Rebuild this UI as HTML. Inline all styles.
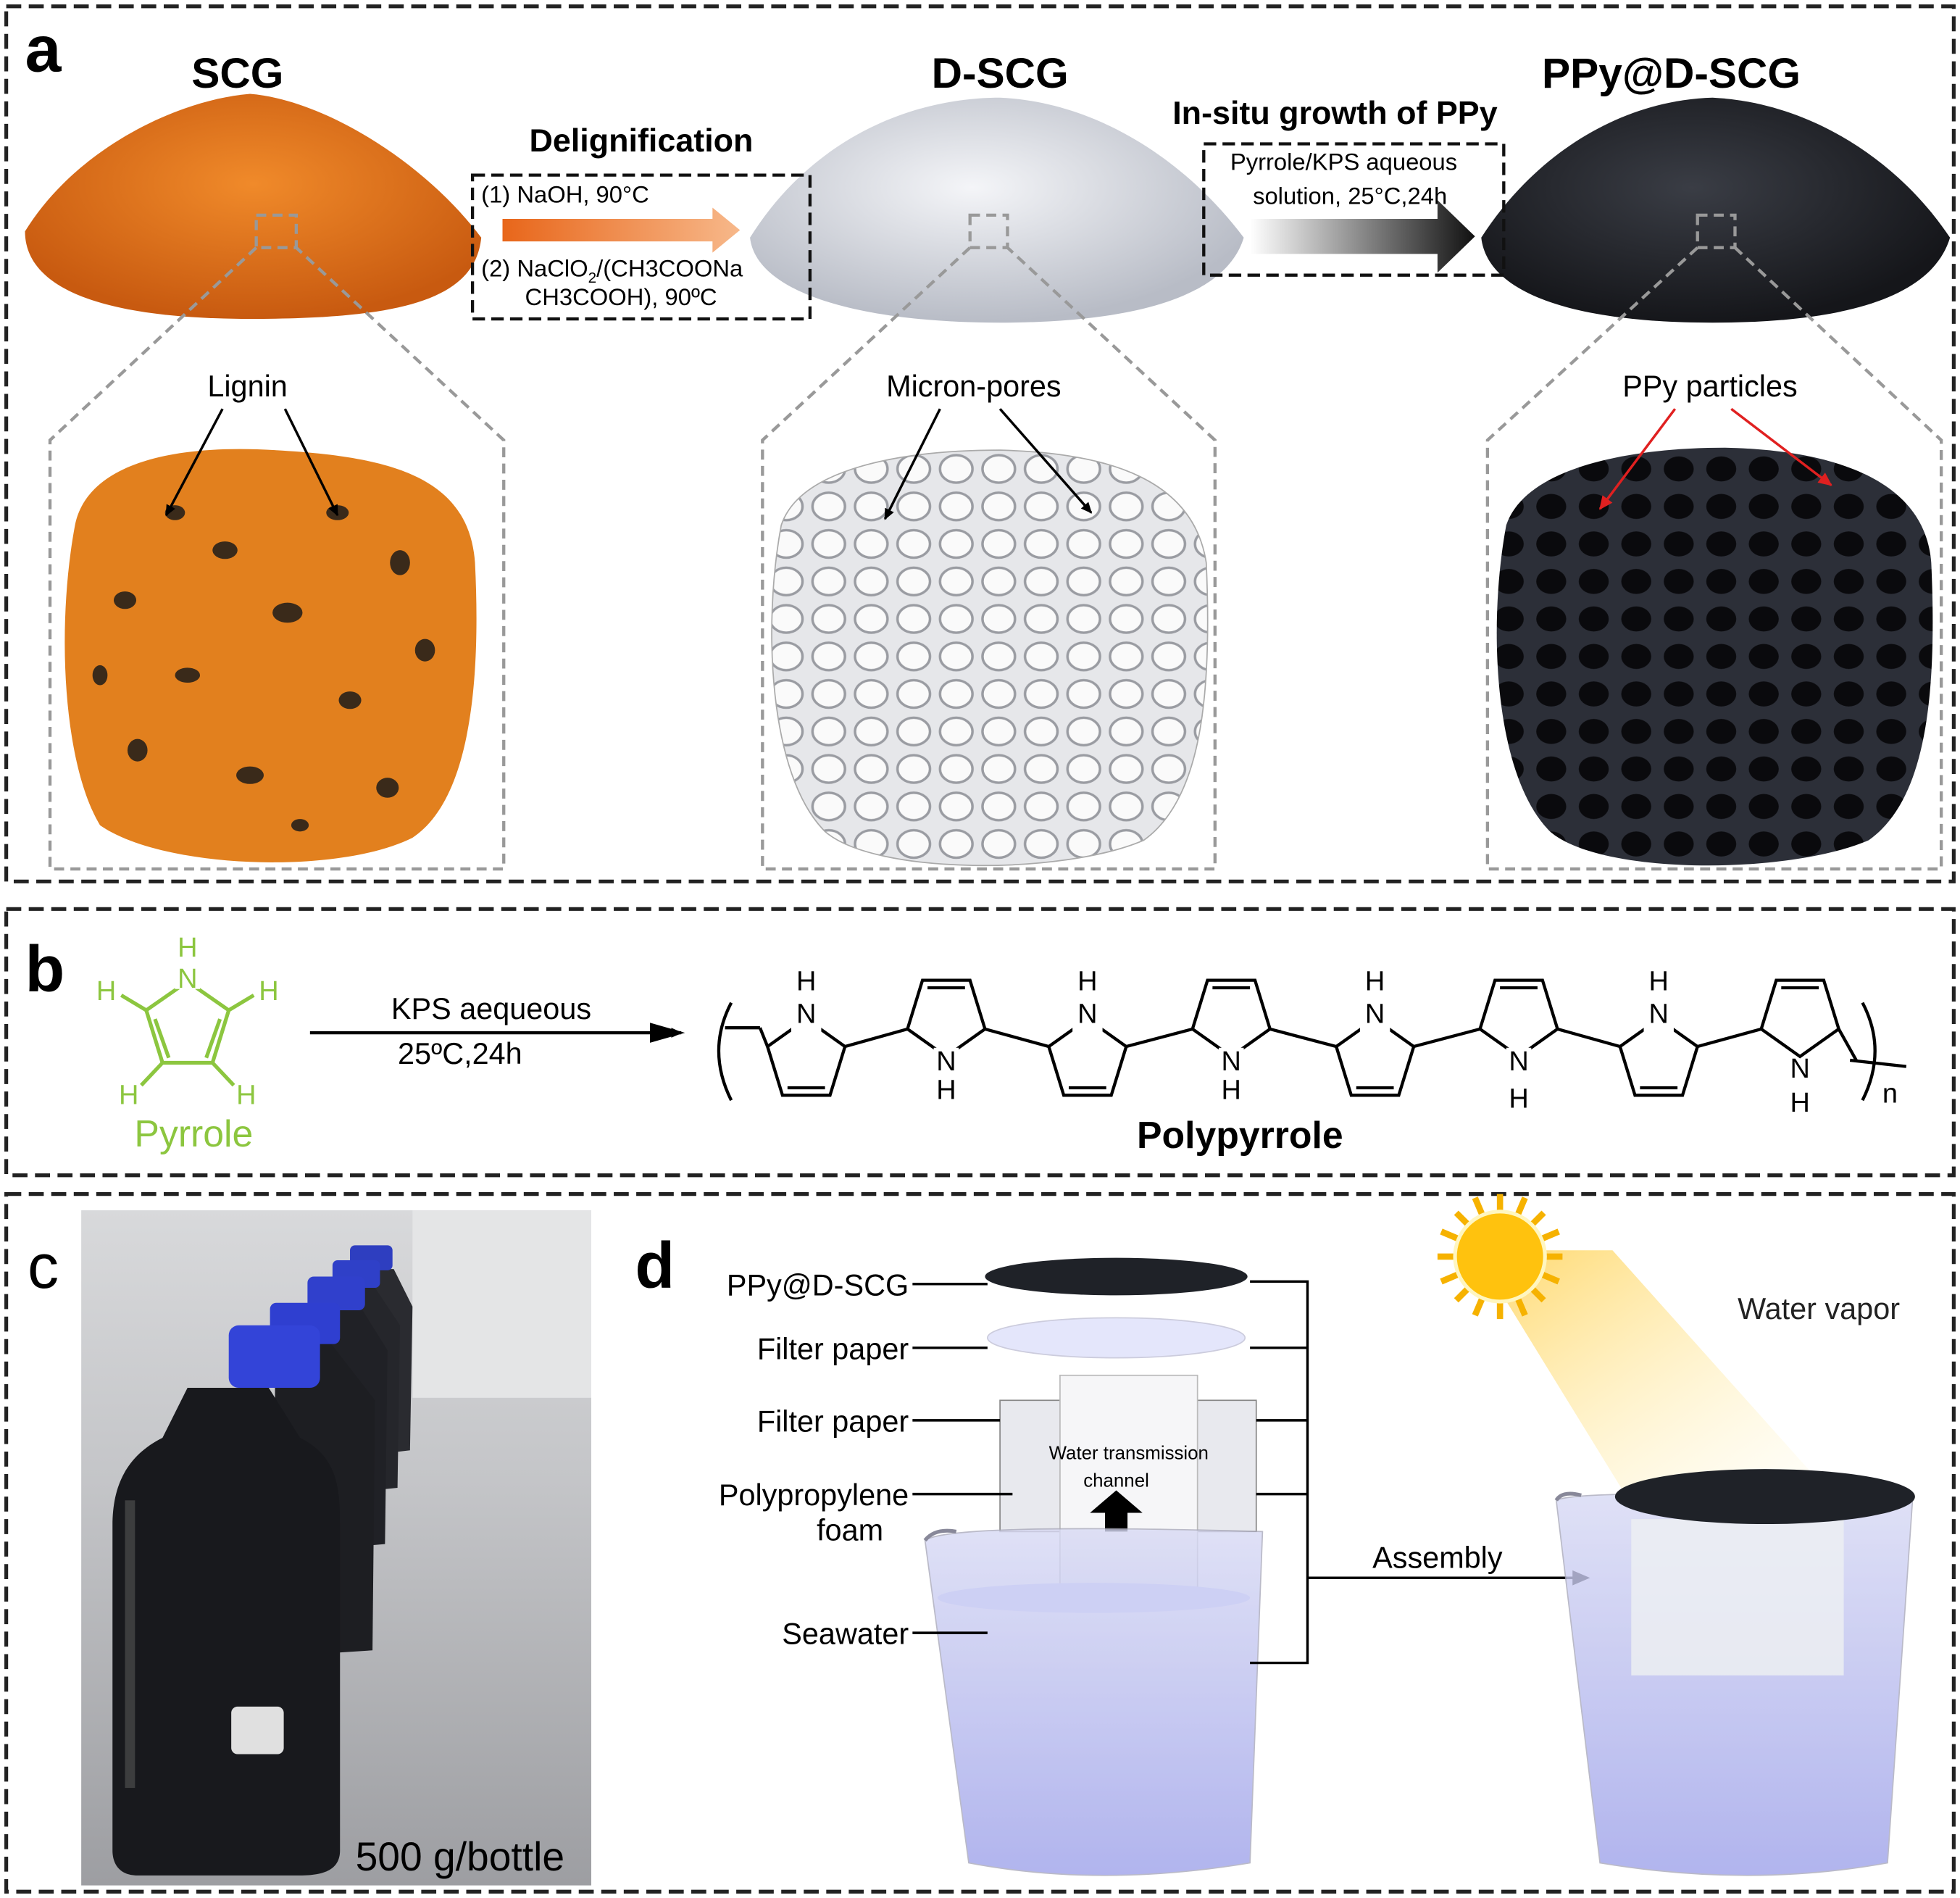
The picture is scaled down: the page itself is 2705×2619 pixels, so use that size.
<!DOCTYPE html>
<html><head><meta charset="utf-8"><style>html,body{margin:0;padding:0;background:#fff}svg{display:block}</style></head>
<body>
<svg width="2705" height="2619" viewBox="0 0 1568 1518" xmlns="http://www.w3.org/2000/svg" font-family="Liberation Sans, Arial, sans-serif">
<defs>
<radialGradient id="org" cx="50%" cy="40%" r="60%"><stop offset="0" stop-color="#f08a2a"/><stop offset="1" stop-color="#c85a10"/></radialGradient>
<radialGradient id="wht" cx="45%" cy="40%" r="60%"><stop offset="0" stop-color="#f4f5f8"/><stop offset="1" stop-color="#b8bcc6"/></radialGradient>
<radialGradient id="blk" cx="45%" cy="40%" r="60%"><stop offset="0" stop-color="#3a3d45"/><stop offset="1" stop-color="#15161a"/></radialGradient>
<linearGradient id="oarr" x1="0" x2="1"><stop offset="0" stop-color="#e8661a"/><stop offset="1" stop-color="#f7b88a"/></linearGradient>
<linearGradient id="barr" x1="0" x2="1"><stop offset="0" stop-color="#ffffff"/><stop offset="1" stop-color="#111"/></linearGradient>
<linearGradient id="photo" x1="0" y1="0" x2="0" y2="1"><stop offset="0" stop-color="#d8d9db"/><stop offset="0.4" stop-color="#c4c5c8"/><stop offset="1" stop-color="#9d9ea2"/></linearGradient>
<linearGradient id="water" x1="0" y1="0" x2="0" y2="1"><stop offset="0" stop-color="#d8daf4"/><stop offset="1" stop-color="#9ea2ea"/></linearGradient>
<linearGradient id="beam" x1="0" y1="0" x2="1" y2="1"><stop offset="0" stop-color="#ffc830" stop-opacity="0.9"/><stop offset="1" stop-color="#fff4c0" stop-opacity="0.1"/></linearGradient>
<marker id="ah" markerWidth="10" markerHeight="10" refX="8" refY="5" orient="auto" markerUnits="userSpaceOnUse"><path d="M0,1 L9,5 L0,9 z" fill="#000"/></marker>
<marker id="ahr" markerWidth="12" markerHeight="12" refX="10" refY="6" orient="auto" markerUnits="userSpaceOnUse"><path d="M0,1 L11,6 L0,11 z" fill="#e02020"/></marker>
<pattern id="pores" width="34" height="30" patternUnits="userSpaceOnUse"><rect width="34" height="30" fill="#e6e7ea"/><ellipse cx="17" cy="15" rx="13" ry="11" fill="#fafafa" stroke="#9a9ca2" stroke-width="2"/></pattern>
<pattern id="dpores" width="34" height="30" patternUnits="userSpaceOnUse"><rect width="34" height="30" fill="#2c2f38"/><ellipse cx="17" cy="15" rx="12" ry="10" fill="#0a0a0d"/></pattern>
</defs>
<rect width="1568" height="1518" fill="#fff"/>
<g fill="none" stroke="#222" stroke-width="3" stroke-dasharray="12,6">
<rect x="5" y="5" width="1558" height="700"/>
<rect x="5" y="727" width="1558" height="213"/>
<rect x="5" y="955" width="1558" height="558"/>
</g>
<text x="20" y="57" font-size="52" font-weight="bold">a</text>
<text x="20" y="793" font-size="52" font-weight="bold">b</text>
<text x="22" y="1030" font-size="50">c</text>
<text x="508" y="1030" font-size="52" font-weight="bold">d</text>

<text x="190" y="70" font-size="34" font-weight="bold" text-anchor="middle">SCG</text>
<text x="800" y="70" font-size="34" font-weight="bold" text-anchor="middle">D-SCG</text>
<text x="1337" y="70" font-size="34" font-weight="bold" text-anchor="middle">PPy@D-SCG</text>
<text x="513" y="121" font-size="26" font-weight="bold" text-anchor="middle">Delignification</text>
<text x="1068" y="99" font-size="26" font-weight="bold" text-anchor="middle">In-situ growth of PPy</text>
<path d="M20,185 C60,120 140,80 200,75 C260,80 340,130 385,190 C380,240 320,255 200,255 C80,255 20,230 20,185 Z" fill="url(#org)"/>
<path d="M600,190 C650,110 730,78 800,78 C880,82 950,130 995,190 C980,240 900,258 800,258 C690,258 605,235 600,190 Z" fill="url(#wht)"/>
<path d="M1185,190 C1230,120 1300,80 1370,78 C1450,82 1520,130 1560,190 C1545,240 1470,258 1370,258 C1260,258 1190,235 1185,190 Z" fill="url(#blk)"/>
<g fill="none" stroke="#999" stroke-width="2.5" stroke-dasharray="8,5">
<rect x="205" y="172" width="32" height="26"/><rect x="776" y="172" width="30" height="26"/><rect x="1358" y="172" width="30" height="26"/>
<path d="M205,198 L40,352 L40,695 L403,695 L403,352 L237,198"/>
<path d="M776,198 L610,352 L610,695 L972,695 L972,352 L806,198"/>
<path d="M1358,198 L1190,352 L1190,695 L1553,695 L1553,352 L1388,198"/>
</g>
<g fill="none" stroke="#111" stroke-width="2.5" stroke-dasharray="10,5">
<rect x="378" y="140" width="270" height="115"/>
<rect x="963" y="115" width="240" height="105"/>
</g>
<text x="385" y="162" font-size="19">(1) NaOH, 90°C</text>
<text x="385" y="221" font-size="19">(2) NaClO<tspan font-size="12" dy="5">2</tspan><tspan dy="-5">/(CH3COONa</tspan></text>
<text x="420" y="244" font-size="19">CH3COOH), 90ºC</text>
<text x="1075" y="136" font-size="19" text-anchor="middle">Pyrrole/KPS aqueous</text>
<text x="1080" y="163" font-size="19" text-anchor="middle">solution, 25°C,24h</text>
<path d="M402,175 L570,175 L570,166 L592,184 L570,202 L570,193 L402,193 Z" fill="url(#oarr)"/>
<path d="M1000,175 L1150,175 L1150,160 L1180,189 L1150,218 L1150,203 L1000,203 Z" fill="url(#barr)"/>
<path d="M60,420 C70,370 140,355 220,360 C310,365 375,380 380,450 C385,550 375,640 330,670 C270,700 130,695 80,660 C50,610 45,500 60,420 Z" fill="#e2801e"/>
<g fill="#3a2a1a">
<ellipse cx="140" cy="410" rx="8" ry="6"/><ellipse cx="180" cy="440" rx="10" ry="7"/><ellipse cx="270" cy="410" rx="9" ry="6"/><ellipse cx="320" cy="450" rx="8" ry="10"/><ellipse cx="100" cy="480" rx="9" ry="7"/><ellipse cx="230" cy="490" rx="12" ry="8"/><ellipse cx="340" cy="520" rx="8" ry="9"/><ellipse cx="150" cy="540" rx="10" ry="6"/><ellipse cx="280" cy="560" rx="9" ry="7"/><ellipse cx="110" cy="600" rx="8" ry="9"/><ellipse cx="200" cy="620" rx="11" ry="7"/><ellipse cx="310" cy="630" rx="9" ry="8"/><ellipse cx="240" cy="660" rx="7" ry="5"/><ellipse cx="80" cy="540" rx="6" ry="8"/>
</g>
<path d="M625,420 C640,375 720,360 800,360 C890,362 955,385 965,450 C970,560 960,640 915,672 C850,700 700,700 660,665 C615,620 610,500 625,420 Z" fill="url(#pores)" stroke="#aaa"/>
<path d="M1205,420 C1220,375 1300,358 1380,358 C1470,360 1540,385 1545,450 C1550,560 1540,640 1495,672 C1430,700 1280,700 1240,665 C1195,620 1190,500 1205,420 Z" fill="url(#dpores)"/>
<text x="198" y="317" font-size="24" text-anchor="middle">Lignin</text>
<text x="779" y="317" font-size="24" text-anchor="middle">Micron-pores</text>
<text x="1368" y="317" font-size="24" text-anchor="middle">PPy particles</text>
<g stroke="#000" stroke-width="2" marker-end="url(#ah)"><line x1="178" y1="327" x2="133" y2="412"/><line x1="228" y1="327" x2="270" y2="412"/><line x1="752" y1="327" x2="708" y2="415"/><line x1="800" y1="327" x2="873" y2="410"/></g>
<g stroke="#e02020" stroke-width="2" marker-end="url(#ahr)"><line x1="1340" y1="327" x2="1280" y2="407"/><line x1="1385" y1="327" x2="1465" y2="388"/></g>

<g stroke="#8cc63f" stroke-width="3" fill="none">
<path d="M150,785 L183,808 L170,850 L130,850 L117,808 Z"/>
<line x1="176" y1="815" x2="165" y2="846"/><line x1="124" y1="815" x2="135" y2="846"/>
<line x1="117" y1="808" x2="97" y2="796"/><line x1="183" y1="808" x2="203" y2="796"/><line x1="130" y1="850" x2="113" y2="868"/><line x1="170" y1="850" x2="187" y2="868"/>
</g>
<g fill="#8cc63f" font-size="22" text-anchor="middle"><text x="150" y="765">H</text><rect x="140" y="773" width="20" height="18" fill="#fff"/><text x="150" y="790">N</text><text x="85" y="800">H</text><text x="215" y="800">H</text><text x="103" y="883">H</text><text x="197" y="883">H</text></g>
<text x="155" y="917" font-size="30" fill="#8cc63f" text-anchor="middle">Pyrrole</text>
<line x1="248" y1="826" x2="545" y2="826" stroke="#000" stroke-width="2.5" marker-end="url(#ah)"/>
<path d="M520,818 L548,826 L520,834 Z"/>
<text x="393" y="815" font-size="24" text-anchor="middle">KPS aequeous</text>
<text x="368" y="851" font-size="24" text-anchor="middle">25ºC,24h</text>
<g stroke="#000" stroke-width="2.5" fill="none">
<path d="M585,802 Q565,840 585,880"/><path d="M1490,802 Q1510,840 1490,880"/>
<line x1="580" y1="822" x2="608" y2="822"/><line x1="1480" y1="848" x2="1525" y2="853"/>
<path d="M645,815 L676,837 L664,876 L626,876 L614,837 Z"/><line x1="630" y1="870" x2="660" y2="870"/>
<path d="M870,815 L901,837 L889,876 L851,876 L839,837 Z"/><line x1="855" y1="870" x2="885" y2="870"/>
<path d="M1100,815 L1131,837 L1119,876 L1081,876 L1069,837 Z"/><line x1="1085" y1="870" x2="1115" y2="870"/>
<path d="M1327,815 L1358,837 L1346,876 L1308,876 L1296,837 Z"/><line x1="1312" y1="870" x2="1342" y2="870"/>
<path d="M757,845 L788,823 L776,784 L738,784 L726,823 Z"/><line x1="742" y1="790" x2="772" y2="790"/>
<path d="M985,845 L1016,823 L1004,784 L966,784 L954,823 Z"/><line x1="970" y1="790" x2="1000" y2="790"/>
<path d="M1215,845 L1246,823 L1234,784 L1196,784 L1184,823 Z"/><line x1="1200" y1="790" x2="1230" y2="790"/>
<path d="M1440,845 L1471,823 L1459,784 L1421,784 L1409,823 Z"/><line x1="1425" y1="790" x2="1455" y2="790"/>
<line x1="676" y1="837" x2="726" y2="823"/><line x1="788" y1="823" x2="839" y2="837"/><line x1="901" y1="837" x2="954" y2="823"/><line x1="1016" y1="823" x2="1069" y2="837"/><line x1="1131" y1="837" x2="1184" y2="823"/><line x1="1246" y1="823" x2="1296" y2="837"/><line x1="1358" y1="837" x2="1409" y2="823"/><line x1="1471" y1="823" x2="1485" y2="848"/><line x1="608" y1="822" x2="614" y2="837"/>
</g>
<g font-size="22" text-anchor="middle" fill="#000">
<rect x="633" y="808" width="24" height="18" fill="#fff"/><text x="645" y="792">H</text><text x="645" y="818">N</text>
<rect x="858" y="808" width="24" height="18" fill="#fff"/><text x="870" y="792">H</text><text x="870" y="818">N</text>
<rect x="1088" y="808" width="24" height="18" fill="#fff"/><text x="1100" y="792">H</text><text x="1100" y="818">N</text>
<rect x="1315" y="808" width="24" height="18" fill="#fff"/><text x="1327" y="792">H</text><text x="1327" y="818">N</text>
<rect x="747" y="838" width="20" height="18" fill="#fff"/><text x="757" y="856">N</text><text x="757" y="879">H</text>
<rect x="975" y="838" width="20" height="18" fill="#fff"/><text x="985" y="856">N</text><text x="985" y="879">H</text>
<rect x="1205" y="838" width="20" height="18" fill="#fff"/><text x="1215" y="856">N</text><text x="1215" y="886">H</text>
<text x="1440" y="862">N</text><text x="1440" y="889">H</text>
<text x="1512" y="882">n</text>
</g>
<text x="992" y="918" font-size="30" font-weight="bold" text-anchor="middle">Polypyrrole</text>

<rect x="65" y="968" width="408" height="540" fill="url(#photo)"/>
<rect x="330" y="968" width="143" height="150" fill="#e4e5e6"/>
<g>
<path d="M285,1015 L315,1015 L330,1045 L328,1160 L285,1165 Z" fill="#2a2b30"/><rect x="280" y="996" width="34" height="20" rx="4" fill="#2e3ec0"/>
<path d="M268,1030 L300,1030 L320,1060 L318,1190 L268,1195 Z" fill="#25262b"/><rect x="266" y="1008" width="38" height="22" rx="4" fill="#2f40c8"/>
<path d="M250,1048 L290,1048 L310,1080 L308,1235 L250,1240 Z" fill="#202126"/><rect x="246" y="1021" width="46" height="27" rx="5" fill="#3040cc"/>
<path d="M220,1075 L265,1075 L300,1120 L298,1320 L220,1325 Z" fill="#1d1e22"/><rect x="216" y="1042" width="56" height="33" rx="5" fill="#2f3fd0"/>
<path d="M150,1110 L215,1110 L240,1150 C270,1165 272,1190 272,1220 L272,1480 C272,1495 260,1500 240,1500 L110,1500 C95,1500 90,1490 90,1480 L90,1220 C90,1190 100,1165 130,1150 Z" fill="#18191d"/>
<rect x="183" y="1060" width="73" height="50" rx="8" fill="#3344d8"/>
<rect x="185" y="1365" width="42" height="38" rx="5" fill="#e0e0e0"/>
<rect x="100" y="1200" width="8" height="230" fill="#555" opacity="0.6"/>
</g>
<text x="368" y="1496" font-size="32" text-anchor="middle">500 g/bottle</text>

<path d="M1180,1000 L1290,1000 L1460,1190 L1300,1195 Z" fill="url(#beam)" opacity="0.8"/>
<ellipse cx="893" cy="1021" rx="105" ry="15" fill="#1f2228"/>
<ellipse cx="893" cy="1070" rx="103" ry="16" fill="#e4e6fb" stroke="#ccd" />
<rect x="800" y="1120" width="205" height="105" fill="#e8e9ee" stroke="#888"/>
<rect x="848" y="1100" width="110" height="170" fill="#f6f6f8" stroke="#bbb"/>
<text x="903" y="1167" font-size="15" text-anchor="middle">Water transmission</text>
<text x="893" y="1189" font-size="15" text-anchor="middle">channel</text>
<path d="M884,1225 L884,1210 L872,1210 L893,1192 L914,1210 L902,1210 L902,1225 Z" fill="#000"/>
<path d="M740,1232 Q760,1218 1010,1225 L1000,1490 Q880,1510 775,1490 Z" fill="url(#water)" opacity="0.8" stroke="#aab"/>
<path d="M740,1232 Q748,1222 765,1225" stroke="#889" stroke-width="3" fill="none"/>
<ellipse cx="875" cy="1278" rx="125" ry="12" fill="#cdd0f4"/>
<g font-size="24" text-anchor="end" fill="#000">
<text x="727" y="1036">PPy@D-SCG</text><text x="727" y="1087">Filter paper</text><text x="727" y="1145">Filter paper</text><text x="727" y="1204">Polypropylene</text><text x="680" y="1232" text-anchor="middle">foam</text><text x="727" y="1315">Seawater</text>
</g>
<g stroke="#000" stroke-width="2" fill="none">
<line x1="730" y1="1027" x2="790" y2="1027"/><line x1="730" y1="1078" x2="790" y2="1078"/><line x1="730" y1="1136" x2="800" y2="1136"/><line x1="730" y1="1195" x2="810" y2="1195"/><line x1="730" y1="1306" x2="790" y2="1306"/>
<path d="M1000,1025 L1046,1025 L1046,1330 L1000,1330 M1000,1078 L1046,1078 M1005,1136 L1046,1136 M1005,1195 L1046,1195 M1046,1262 L1265,1262"/>
</g>
<path d="M1258,1256 L1272,1262 L1258,1268 Z"/>
<text x="1150" y="1254" font-size="24" text-anchor="middle">Assembly</text>
<g stroke="#f6b200" stroke-width="5">
<line x1="1150" y1="1005" x2="1250" y2="1005"/><line x1="1200" y1="955" x2="1200" y2="1055"/><line x1="1165" y1="970" x2="1235" y2="1040"/><line x1="1235" y1="970" x2="1165" y2="1040"/>
<line x1="1153" y1="985" x2="1247" y2="1025"/><line x1="1153" y1="1025" x2="1247" y2="985"/><line x1="1180" y1="958" x2="1220" y2="1052"/><line x1="1220" y1="958" x2="1180" y2="1052"/>
</g>
<circle cx="1200" cy="1005" r="36" fill="#ffc20e" stroke="#fff6c0" stroke-width="3"/>
<text x="1455" y="1055" font-size="24" text-anchor="middle" fill="#222">Water vapor</text>
<path d="M1245,1200 Q1265,1190 1530,1200 L1510,1490 Q1400,1510 1280,1490 Z" fill="url(#water)" opacity="0.8" stroke="#aab"/>
<path d="M1245,1200 Q1250,1192 1265,1196" stroke="#889" stroke-width="3" fill="none"/>
<rect x="1305" y="1215" width="170" height="125" fill="#eceef2" opacity="0.85"/>
<ellipse cx="1412" cy="1197" rx="120" ry="22" fill="#1f2228"/>
</svg>
</body></html>
